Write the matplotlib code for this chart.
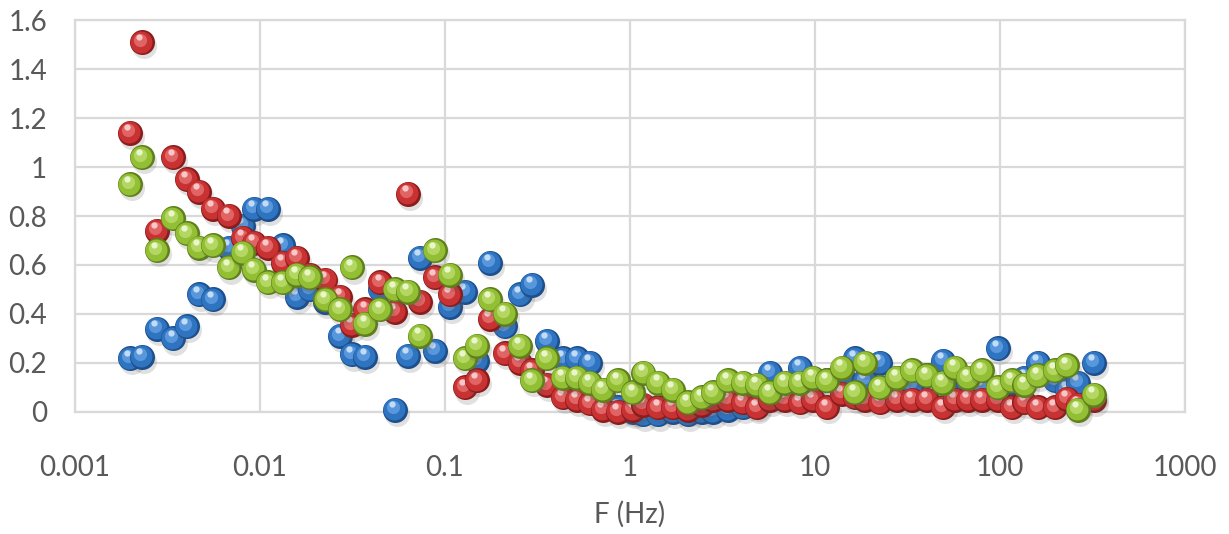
import numpy as np
import matplotlib
matplotlib.use('Agg')
import matplotlib.pyplot as plt
from matplotlib.transforms import offset_copy

# frequencies (Hz) shared by the three series
freq = [0.00198, 0.0023, 0.00277, 0.00339, 0.00403, 0.00468, 0.00557, 0.0068, 0.00809, 0.00928,
        0.011, 0.0133, 0.0158, 0.0186, 0.0225, 0.0271, 0.0314, 0.037, 0.0446, 0.0537,
        0.0631, 0.0733, 0.0883, 0.106, 0.128, 0.149, 0.175, 0.211, 0.254, 0.295,
        0.356, 0.434, 0.517, 0.608, 0.715, 0.861, 1.04, 1.18, 1.42, 1.71,
        2.06, 2.45, 2.81, 3.39, 4.08, 4.86, 5.71, 6.88, 8.3, 9.75,
        11.6, 14.0, 16.4, 18.6, 22.4, 27.7, 33.4, 40.3, 49.2, 57.1,
        67.1, 80.0, 97.6, 116, 136, 160, 198, 230, 264, 322]

blue = [0.22, 0.225, 0.34, 0.30, 0.35, 0.48, 0.46, 0.67, 0.76, 0.83,
        0.83, 0.68, 0.47, 0.50, 0.45, 0.31, 0.235, 0.225, 0.50, 0.01,
        0.23, 0.63, 0.25, 0.43, 0.49, 0.21, 0.61, 0.35, 0.48, 0.52,
        0.29, 0.22, 0.22, 0.20, 0.06, 0.02, 0.0, -0.01, -0.01, 0.0,
        -0.01, 0.0, 0.0, 0.01, 0.02, 0.03, 0.16, 0.10, 0.18, 0.12,
        0.13, 0.15, 0.22, 0.13, 0.20, 0.14, 0.11, 0.15, 0.21, 0.14,
        0.12, 0.10, 0.26, 0.12, 0.14, 0.20, 0.13, 0.09, 0.12, 0.20]

red = [1.14, 1.51, 0.74, 1.04, 0.95, 0.90, 0.83, 0.80, 0.71, 0.69,
       0.67, 0.61, 0.63, 0.56, 0.54, 0.47, 0.355, 0.42, 0.53, 0.41,
       0.89, 0.45, 0.55, 0.48, 0.10, 0.13, 0.38, 0.24, 0.20, 0.17,
       0.11, 0.06, 0.05, 0.035, 0.01, 0.0, 0.01, 0.03, 0.02, 0.02,
       0.01, 0.03, 0.05, 0.05, 0.04, 0.02, 0.05, 0.05, 0.04, 0.05,
       0.02, 0.075, 0.06, 0.05, 0.04, 0.05, 0.05, 0.05, 0.02, 0.05,
       0.05, 0.05, 0.05, 0.02, 0.04, 0.02, 0.02, 0.055, 0.03, 0.05]

green = [0.93, 1.04, 0.66, 0.79, 0.73, 0.67, 0.68, 0.59, 0.65, 0.58,
         0.53, 0.53, 0.56, 0.55, 0.46, 0.42, 0.59, 0.36, 0.42, 0.50,
         0.49, 0.31, 0.66, 0.56, 0.22, 0.27, 0.46, 0.40, 0.27, 0.13,
         0.22, 0.14, 0.14, 0.12, 0.09, 0.13, 0.08, 0.16, 0.12, 0.09,
         0.04, 0.06, 0.08, 0.13, 0.12, 0.11, 0.08, 0.12, 0.12, 0.14,
         0.13, 0.18, 0.08, 0.20, 0.10, 0.14, 0.17, 0.15, 0.12, 0.18,
         0.14, 0.17, 0.10, 0.13, 0.11, 0.15, 0.17, 0.19, 0.01, 0.07]

# dark edge, body, light, highlight
palettes = {
    'blue': ['#1d4f8c', '#2f74c0', '#5d9be0', '#cfe4fa'],
    'red': ['#8a1c1c', '#c93232', '#e46a6a', '#fbd4d4'],
    'green': ['#5f7f1b', '#93bf34', '#b8da6a', '#f0f9d6'],
}

plt.rcParams['font.family'] = ['Lato', 'DejaVu Sans']
fig = plt.figure(figsize=(12.29, 5.34), dpi=100)
ax = fig.add_axes([0.061, 0.2285, 0.903, 0.734])

ax.set_xscale('log')
ax.set_xlim(0.001, 1000)
ax.set_ylim(0, 1.6)
ax.set_yticks(np.arange(0, 1.61, 0.2))
ax.set_yticklabels(['0', '0.2', '0.4', '0.6', '0.8', '1', '1.2', '1.4', '1.6'])
ax.set_xticks([0.001, 0.01, 0.1, 1, 10, 100, 1000])
ax.set_xticklabels(['0.001', '0.01', '0.1', '1', '10', '100', '1000'])
ax.minorticks_off()
ax.grid(True, color='#d9d9d9', linewidth=1.6)
ax.set_axisbelow(True)
for s in ax.spines.values():
    s.set_color('#d9d9d9')
    s.set_linewidth(1.6)
ax.tick_params(length=0, labelsize=20, colors='#595959')
ax.tick_params(axis='x', pad=31)
ax.tick_params(axis='y', pad=20)
ax.set_xlabel('F (Hz)', fontsize=20, color='#595959', labelpad=14)


def offs(dx, dy):
    return offset_copy(ax.transData, fig=fig, x=dx, y=dy, units='points')


# layers: (offset x, offset y, diameter, color index / None for shadow, alpha)
d = 18
layers = [
    (1.5, -3.0, d, None, 0.18),
    (0, 0, d, 0, 1.0),
    (-0.4, 0.4, d - 2.2, 1, 1.0),
    (-1.3, 1.8, d - 8.5, 2, 0.9),
    (-1.8, 4.0, 4.5, 3, 0.9),
]

z = 3
for name, vals in [('blue', blue), ('red', red), ('green', green)]:
    cols = palettes[name]
    for f, v in zip(freq, vals):
        for dx, dy, size, ci, a in layers:
            c = '#555555' if ci is None else cols[ci]
            ax.scatter([f], [v], s=size ** 2, color=c, alpha=a, linewidths=0,
                       transform=offs(dx, dy), zorder=z, clip_on=False)
            z += 0.001

fig.savefig('out.png', dpi=100)
